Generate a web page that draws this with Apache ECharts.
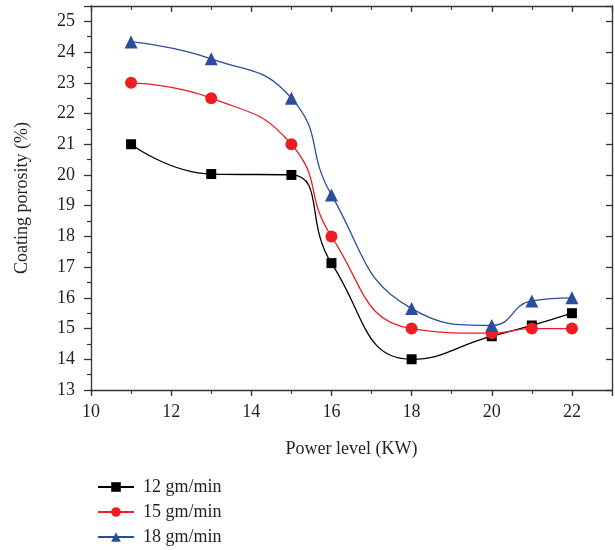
<!DOCTYPE html>
<html>
<head>
<meta charset="utf-8">
<script src="https://cdn.jsdelivr.net/npm/echarts@6/dist/echarts.min.js"></script>
<style>
  html, body { margin: 0; padding: 0; background: #fff; }
  #chart { width: 615px; height: 550px; }
</style>
</head>
<body>
<div id="chart"></div>
<script>
// Power level (KW)
const power = [11, 13, 15, 16, 18, 20, 21, 22]

// Coating porosity (%) per powder feed rate
const feed12 = [21.0, 20.03, 20.0, 17.13, 14.0, 14.75, 15.1, 15.5]
const feed15 = [23.0, 22.5, 21.0, 18.0, 15.0, 14.85, 15.0, 15.0]
const feed18 = [24.33, 23.78, 22.5, 19.35, 15.65, 15.1, 15.9, 16.0]

const seriesNames = ['12 gm/min', '15 gm/min', '18 gm/min']

const font = "'Liberation Serif', 'DejaVu Serif', serif"
const axisColor = '#333'
const textColor = '#231f20'

const chart = echarts.init(document.getElementById('chart'))

const pairs = (ys) => power.map((x, i) => [x, ys[i]])

function lineSeries(name, ys, color, symbol, size) {
  return {
    name,
    type: 'line',
    data: pairs(ys),
    smooth: 0.5,
    symbol,
    symbolSize: size,
    showSymbol: true,
    lineStyle: { color, width: 1.3 },
    itemStyle: { color },
    xAxisIndex: 0,
    yAxisIndex: 0,
  }
}

const option = {
  animation: false,
  backgroundColor: '#fff',
  grid: { left: 91, right: 3, top: 6, bottom: 160 },
  legend: {
    data: seriesNames,
    orient: 'vertical',
    left: 92,
    top: 473,
    height: 100,
    itemWidth: 36,
    itemHeight: 12,
    itemGap: 7,
    textStyle: { fontFamily: font, fontSize: 18, color: textColor, padding: [0, 0, 0, 4] },
  },
  xAxis: [
    {
      type: 'value',
      min: 10,
      max: 23,
      interval: 2,
      name: 'Power level (KW)',
      nameLocation: 'middle',
      nameGap: 50,
      nameTextStyle: { fontFamily: font, fontSize: 18, color: textColor },
      axisLine: { lineStyle: { color: axisColor, width: 1.3 } },
      axisTick: { length: 6, lineStyle: { color: axisColor, width: 1.3 } },
      minorTick: { show: true, splitNumber: 2, length: 4, lineStyle: { color: axisColor, width: 1.2 } },
      axisLabel: {
        fontFamily: font, fontSize: 18, color: textColor, margin: 13,
        formatter: v => (v % 2 === 0 ? String(v) : ''),
      },
      splitLine: { show: false },
    },
    {
      type: 'value',
      position: 'top',
      min: 10,
      max: 23,
      interval: 2,
      axisLine: { show: true, lineStyle: { color: axisColor, width: 1.3 } },
      axisTick: { inside: true, length: 6, lineStyle: { color: axisColor, width: 1.3 } },
      minorTick: { show: true, splitNumber: 2, length: 4, lineStyle: { color: axisColor, width: 1.2 } },
      axisLabel: { show: false },
      splitLine: { show: false },
    },
  ],
  yAxis: [
    {
      type: 'value',
      min: 13,
      max: 25.5,
      interval: 1,
      name: 'Coating porosity (%)',
      nameLocation: 'middle',
      nameGap: 60,
      nameTextStyle: { fontFamily: font, fontSize: 18, color: textColor },
      axisLine: { show: true, lineStyle: { color: axisColor, width: 1.3 } },
      axisTick: { show: true, length: 7, lineStyle: { color: axisColor, width: 1.3 } },
      minorTick: { show: true, splitNumber: 2, length: 4, lineStyle: { color: axisColor, width: 1.2 } },
      axisLabel: {
        fontFamily: font, fontSize: 18, color: textColor, margin: 16,
        formatter: v => (Number.isInteger(v) ? String(v) : ''),
      },
      splitLine: { show: false },
    },
    {
      type: 'value',
      position: 'right',
      min: 13,
      max: 25.5,
      interval: 1,
      axisLine: { show: true, lineStyle: { color: axisColor, width: 1.3 } },
      axisTick: { show: true, inside: true, length: 6, lineStyle: { color: axisColor, width: 1.3 } },
      minorTick: { show: false },
      axisLabel: { show: false },
      splitLine: { show: false },
    },
  ],
  series: [
    lineSeries(seriesNames[0], feed12, '#000000', 'rect', 10),
    lineSeries(seriesNames[1], feed15, '#ee1d24', 'circle', 12),
    lineSeries(seriesNames[2], feed18, '#2b4c9f', 'triangle', 13),
  ],
}

chart.setOption(option)
</script>
</body>
</html>
